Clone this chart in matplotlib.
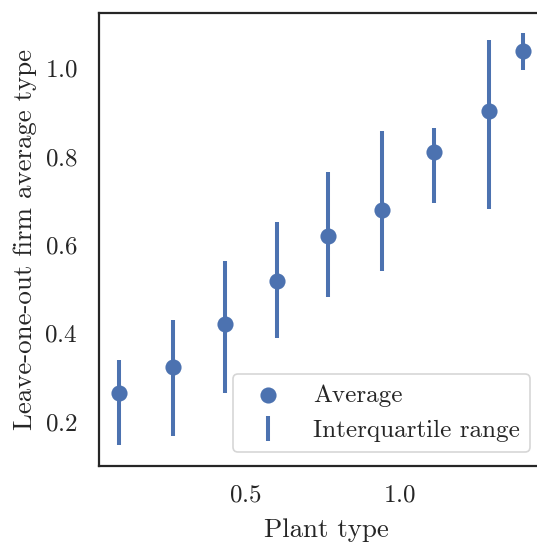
import matplotlib
matplotlib.use("Agg")
import matplotlib.pyplot as plt
import numpy as np

plant_type = [0.089, 0.262, 0.434, 0.601, 0.769, 0.943, 1.114, 1.293, 1.402]
average = [0.264, 0.323, 0.421, 0.518, 0.619, 0.678, 0.811, 0.904, 1.038]
q25 = [0.147, 0.168, 0.265, 0.389, 0.482, 0.541, 0.694, 0.681, 0.996]
q75 = [0.339, 0.430, 0.563, 0.652, 0.765, 0.857, 0.864, 1.064, 1.079]
xticks = [0.5, 1.0]
yticks = [0.2, 0.4, 0.6, 0.8, 1.0]

plt.rcParams['font.family'] = 'serif'
plt.rcParams['font.serif'] = ['cmr10']
plt.rcParams['mathtext.fontset'] = 'cm'
plt.rcParams['axes.formatter.use_mathtext'] = True

color = '#4C72B0'
W, H = 537, 543
fig = plt.figure(figsize=(W / 100, H / 100), dpi=100)
ax_left, ax_bottom = 99 / W, 77 / H
ax = fig.add_axes([ax_left, ax_bottom, 453.9 / W, 453.5 / H])

x = np.array(plant_type)
avg = np.array(average)
lo = avg - np.array(q25)
hi = np.array(q75) - avg

ax.errorbar(x, avg, yerr=[lo, hi], fmt='none', ecolor=color, elinewidth=2.9,
            capsize=0, label='Interquartile range', zorder=2)
ax.scatter(x, avg, s=135, color=color, label='Average', zorder=3, linewidths=0)

ax.set_xlim(0.0225, 1.5)
ax.set_ylim(0.0994, 1.126)
ax.set_xticks(xticks)
ax.set_yticks(yticks)
ax.tick_params(axis='both', length=0, labelsize=18, colors='#262626')
ax.tick_params(axis='x', pad=13.5)
ax.tick_params(axis='y', pad=15.5)
for s in ax.spines.values():
    s.set_linewidth(1.6)
    s.set_color('#262626')

ax.set_xlabel('Plant type', fontsize=19.4, color='#262626', labelpad=8)
ax.set_ylabel('Leave-one-out firm average type', fontsize=19.4, color='#262626', labelpad=5)

handles, labels = ax.get_legend_handles_labels()
order = [labels.index('Average'), labels.index('Interquartile range')]
leg = ax.legend([handles[i] for i in order], [labels[i] for i in order],
                loc='lower right', bbox_to_anchor=(530 / W, (H - 452) / H),
                bbox_transform=fig.transFigure, borderaxespad=0,
                fontsize=18.1, frameon=True, fancybox=True)
leg.get_frame().set_edgecolor('#cccccc')
leg.get_frame().set_linewidth(1.2)
for t in leg.get_texts():
    t.set_color('#262626')

fig.savefig('out.png', dpi=100)
